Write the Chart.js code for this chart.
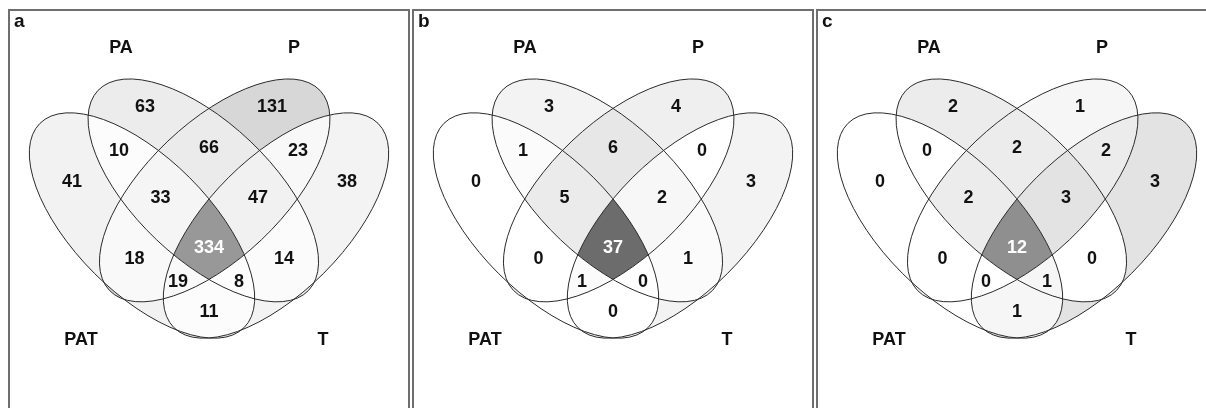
<!DOCTYPE html>
<html>
<head>
<meta charset="utf-8">
<script src="https://cdn.jsdelivr.net/npm/chart.js@4.4.1/dist/chart.umd.min.js"></script>
<style>
body { margin: 0; background: #fff; width: 1206px; height: 408px; overflow: hidden; position: relative; }
.frame { position: absolute; top: 9px; height: 430px; border: 2px solid #6e6e6e; box-sizing: border-box; }
canvas { position: absolute; top: 0; }
</style>
</head>
<body>
<div class="frame" style="left:8px;width:402px"></div>
<div class="frame" style="left:412px;width:402px"></div>
<div class="frame" style="left:816px;width:400px"></div>
<canvas id="venn_a" width="404" height="408" style="left:8px"></canvas>
<canvas id="venn_b" width="404" height="408" style="left:412px"></canvas>
<canvas id="venn_c" width="390" height="408" style="left:816px"></canvas>
<script>
// sets, in the order used by the region codes below
const setNames = ['PAT', 'PA', 'P', 'T']
const setLabelX = [73, 113, 286, 315]
const setLabelY = [340, 48, 48, 340]

// region code: 1 = inside that set (PAT, PA, P, T)
const regions = ['1000', '0100', '0010', '0001', '1100', '0110', '0011', '1110', '0111', '1111', '1010', '0101', '1011', '1101', '1001']
const regionX = [64, 137, 264, 339, 111, 201, 290, 152.5, 250, 201, 126.5, 276, 170, 231, 201]
const regionY = [182, 107, 107, 182, 151, 148, 151, 198.5, 198.5, 248, 259, 259.5, 282, 282.5, 312]

const countsA = [41, 63, 131, 38, 10, 66, 23, 33, 47, 334, 18, 14, 19, 8, 11]
const countsB = [0, 3, 4, 3, 1, 6, 0, 5, 2, 37, 0, 1, 1, 0, 0]
const countsC = [0, 2, 1, 3, 0, 2, 2, 2, 3, 12, 0, 0, 0, 1, 1]

// ellipse layout in axis units (1 unit = 1 px), same for every panel
const ellipses = [
  { x: 134, y: 225.5, a: 144.4, b: 67.5, rot: 45 },    // PAT
  { x: 195.3, y: 190.4, a: 145.2, b: 68, rot: 43.5 },  // PA
  { x: 206.7, y: 190.4, a: 145.2, b: 68, rot: 136.5 }, // P
  { x: 268, y: 225.5, a: 144.4, b: 67.5, rot: 135 }    // T
]

const FONT = '"Liberation Sans", Arial, sans-serif'

const vennPlugin = {
  id: 'venn',
  beforeDatasetsDraw(chart, args, opts) {
    const { ctx, scales: { x, y }, width, height } = chart
    const sx = Math.abs(x.getPixelForValue(1) - x.getPixelForValue(0))
    const sy = Math.abs(y.getPixelForValue(1) - y.getPixelForValue(0))
    const shape = (p, e) => p.ellipse(x.getPixelForValue(e.x), y.getPixelForValue(e.y), e.a * sx, e.b * sy, e.rot * Math.PI / 180, 0, 2 * Math.PI)
    const paths = ellipses.map(e => {
      const p = new Path2D()
      shape(p, e)
      return p
    })
    const outside = ellipses.map(e => {
      const p = new Path2D()
      p.rect(-10, -10, width + 20, height + 20)
      shape(p, e)
      return p
    })
    const max = Math.max(...opts.counts)
    regions.forEach((code, i) => {
      const g = Math.round(255 - (255 - opts.dark) * opts.counts[i] / max)
      ctx.save()
      for (let k = 0; k < 4; k++) {
        if (code[k] === '1') ctx.clip(paths[k])
        else ctx.clip(outside[k], 'evenodd')
      }
      ctx.fillStyle = `rgb(${g},${g},${g})`
      ctx.fillRect(0, 0, width, height)
      ctx.restore()
    })
    ctx.save()
    ctx.strokeStyle = '#2a2a2a'
    ctx.lineWidth = 1
    paths.forEach(p => ctx.stroke(p))
    ctx.restore()
  },
  afterDatasetsDraw(chart, args, opts) {
    const { ctx } = chart
    const max = Math.max(...opts.counts)
    ctx.save()
    ctx.font = 'bold 18px ' + FONT
    ctx.textAlign = 'center'
    ctx.textBaseline = 'middle'
    chart.getDatasetMeta(0).data.forEach((pt, i) => {
      ctx.fillStyle = opts.counts[i] === max ? '#ffffff' : '#111111'
      ctx.fillText(String(opts.counts[i]), pt.x, pt.y)
    })
    ctx.fillStyle = '#111111'
    chart.getDatasetMeta(1).data.forEach((pt, i) => {
      ctx.fillText(setNames[i], pt.x, pt.y)
    })
    ctx.font = 'bold 19px ' + FONT
    ctx.textAlign = 'left'
    ctx.textBaseline = 'alphabetic'
    ctx.fillText(opts.letter, 6, 26.5)
    ctx.restore()
  }
}

function drawPanel(id, counts, letter, dark) {
  const canvas = document.getElementById(id)
  new Chart(canvas, {
    type: 'scatter',
    data: {
      datasets: [
        { data: regionX.map((v, i) => ({ x: v, y: regionY[i] })), pointRadius: 0 },
        { data: setLabelX.map((v, i) => ({ x: v, y: setLabelY[i] })), pointRadius: 0 }
      ]
    },
    options: {
      responsive: false,
      animation: false,
      events: [],
      layout: { padding: 0 },
      plugins: {
        legend: { display: false },
        tooltip: { enabled: false },
        venn: { counts, letter, dark }
      },
      scales: {
        x: { type: 'linear', min: 0, max: canvas.width, display: false },
        y: { type: 'linear', min: 0, max: 408, reverse: true, display: false }
      }
    },
    plugins: [vennPlugin]
  })
}

drawPanel('venn_a', countsA, 'a', 152)
drawPanel('venn_b', countsB, 'b', 108)
drawPanel('venn_c', countsC, 'c', 143)
</script>
</body>
</html>
